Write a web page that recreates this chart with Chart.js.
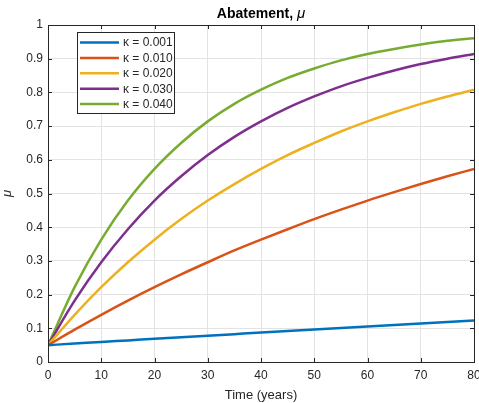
<!DOCTYPE html>
<html>
<head>
<meta charset="utf-8">
<script src="https://cdn.jsdelivr.net/npm/chart.js@4.4.1/dist/chart.umd.min.js"></script>
<style>
  html, body { margin: 0; padding: 0; background: #fff; }
  #wrap { width: 479px; height: 403px; }
</style>
</head>
<body>
<div id="wrap"><canvas id="chart" width="479" height="403"></canvas></div>
<script>
// years sampled every 5
const years = [0, 5, 10, 15, 20, 25, 30, 35, 40, 45, 50, 55, 60, 65, 70, 75, 80];

// abatement
const k001 = [0.0500, 0.0547, 0.0595, 0.0641, 0.0688, 0.0734, 0.0781, 0.0827, 0.0873, 0.0918, 0.0964, 0.1009, 0.1053, 0.1098, 0.1142, 0.1186, 0.1231];
const k010 = [0.050, 0.096, 0.140, 0.182, 0.222, 0.260, 0.296, 0.331, 0.363, 0.394, 0.424, 0.452, 0.479, 0.504, 0.528, 0.551, 0.573];
const k020 = [0.050, 0.140, 0.222, 0.296, 0.363, 0.424, 0.479, 0.528, 0.573, 0.614, 0.650, 0.684, 0.714, 0.741, 0.766, 0.788, 0.808];
const k030 = [0.050, 0.182, 0.296, 0.394, 0.479, 0.551, 0.614, 0.668, 0.714, 0.754, 0.788, 0.818, 0.843, 0.865, 0.884, 0.900, 0.914];
const k040 = [0.050, 0.222, 0.363, 0.479, 0.573, 0.650, 0.714, 0.766, 0.808, 0.843, 0.871, 0.895, 0.914, 0.929, 0.942, 0.953, 0.961];

const labels = ["κ = 0.001", "κ = 0.010", "κ = 0.020", "κ = 0.030", "κ = 0.040"];
const colors = ["#0072BD", "#D95319", "#EDB120", "#7E2F8E", "#77AC30"];
const series = [k001, k010, k020, k030, k040];

const FONT = "'Liberation Sans', Arial, sans-serif";
const AXIS = "#262626";

const datasets = series.map((vals, i) => ({
  label: labels[i],
  data: vals.map((v, j) => ({ x: years[j], y: v })),
  borderColor: colors[i],
  backgroundColor: colors[i],
  borderWidth: 2.5,
  pointRadius: 0,
  cubicInterpolationMode: "monotone",
  fill: false,
}));

// title over the axes, box, inward ticks and the legend inside the axes
const matlabBits = {
  id: "matlabBits",
  afterDatasetsDraw(chart) {
    const ctx = chart.ctx;
    const a = chart.chartArea;
    const xs = chart.scales.x, ys = chart.scales.y;
    ctx.save();

    // title: "Abatement, " bold + italic mu
    const t1 = "Abatement, ", t2 = "μ";
    ctx.font = "bold 14px " + FONT;
    const w1 = ctx.measureText(t1).width;
    ctx.font = "italic 15px " + FONT;
    const w2 = ctx.measureText(t2).width;
    const tx = (a.left + a.right) / 2 - (w1 + w2) / 2;
    ctx.fillStyle = "#000";
    ctx.textBaseline = "alphabetic";
    ctx.font = "bold 14px " + FONT;
    ctx.fillText(t1, tx, 18);
    ctx.font = "italic 15px " + FONT;
    ctx.fillText(t2, tx + w1, 18);

    ctx.strokeStyle = AXIS;
    ctx.lineWidth = 1;
    ctx.beginPath();
    xs.ticks.forEach(t => {
      const px = Math.round(xs.getPixelForValue(t.value)) + 0.5;
      ctx.moveTo(px, a.bottom); ctx.lineTo(px, a.bottom - 4);
      ctx.moveTo(px, a.top); ctx.lineTo(px, a.top + 4);
    });
    ys.ticks.forEach(t => {
      const py = Math.round(ys.getPixelForValue(t.value)) + 0.5;
      ctx.moveTo(a.left, py); ctx.lineTo(a.left + 4, py);
      ctx.moveTo(a.right, py); ctx.lineTo(a.right - 4, py);
    });
    ctx.stroke();
    ctx.strokeRect(Math.round(a.left) + 0.5, Math.round(a.top) + 0.5,
      Math.round(a.right - a.left), Math.round(a.bottom - a.top));

    // legend
    const lx = 77.5, ly = 32.5, lw = 97, lh = 81;
    ctx.fillStyle = "#fff";
    ctx.fillRect(lx, ly, lw, lh);
    ctx.strokeRect(lx, ly, lw, lh);
    ctx.font = "12px " + FONT;
    ctx.textBaseline = "middle";
    chart.data.datasets.forEach((ds, i) => {
      const y = 42.5 + i * 15.4;
      ctx.strokeStyle = ds.borderColor;
      ctx.lineWidth = 2.5;
      ctx.beginPath();
      ctx.moveTo(80, y); ctx.lineTo(119, y);
      ctx.stroke();
      ctx.fillStyle = AXIS;
      ctx.fillText(ds.label, 123, y + 0.5);
    });
    ctx.restore();
  }
};

new Chart(document.getElementById("chart"), {
  type: "line",
  data: { datasets: datasets },
  plugins: [matlabBits],
  options: {
    responsive: false,
    animation: false,
    layout: { padding: { left: 0, right: 5, top: 25, bottom: 0 } },
    plugins: {
      legend: { display: false },
      tooltip: { enabled: false },
      title: { display: false },
    },
    scales: {
      x: {
        type: "linear",
        min: 0, max: 80,
        afterFit: s => { s.height = 41; s.paddingLeft = 0; s.paddingRight = 0; },
        ticks: { stepSize: 10, color: AXIS, padding: 6, maxRotation: 0, font: { family: FONT, size: 12 } },
        grid: { color: "#e3e3e3", drawTicks: false },
        border: { display: false },
        title: { display: true, text: "Time (years)", color: AXIS, padding: { top: 0, bottom: 0 }, font: { family: FONT, size: 13 } },
      },
      y: {
        min: 0, max: 1,
        afterFit: s => { s.width = 48; s.paddingTop = 0; s.paddingBottom = 0; },
        ticks: {
          stepSize: 0.1, color: AXIS, padding: 5, font: { family: FONT, size: 12 },
          callback: v => String(Math.round(v * 10) / 10),
        },
        grid: { color: "#e3e3e3", drawTicks: false },
        border: { display: false },
        title: { display: true, text: "μ", color: AXIS, padding: { top: 0, bottom: 6 }, font: { family: FONT, size: 13, style: "italic" } },
      },
    },
  },
});
</script>
</body>
</html>
